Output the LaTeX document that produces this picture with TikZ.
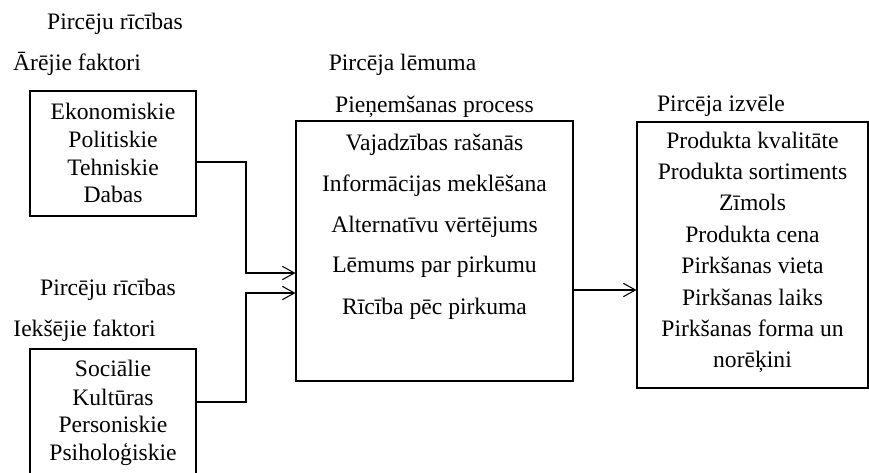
\documentclass[tikz,border=0pt]{standalone}
\usepackage{fontspec}
\setmainfont{Liberation Serif}
\usetikzlibrary{arrows.meta,positioning,fit}

\begin{document}
\begin{tikzpicture}[
    x=0.75pt, y=-0.75pt,
    box/.style={draw, rectangle, inner sep=0pt, line width=0.8pt},
    txt/.style={anchor=base, inner sep=0pt, font=\fontsize{17.7}{20}\selectfont},
    arrow/.style={-{Straight Barb[length=9pt, width=10pt]}, line width=0.8pt}
]
\clip (0,0) rectangle (869,473);

% Headings
\node[txt] (h1) at (115,30) {Pircēju rīcības};
\node[txt] (h2) at (77,71) {Ārējie faktori};
\node[txt] (h3) at (108,296) {Pircēju rīcības};
\node[txt] (h4) at (84.5,337) {Iekšējie faktori};
\node[txt] (h5) at (402.5,71) {Pircēja lēmuma};
\node[txt] (h6) at (434.5,113) {Pieņemšanas process};
\node[txt] (h7) at (721,112) {Pircēja izvēle};

% Boxes
\node[box, fit={(30,91) (196,216)}] (ext) {};
\node[box, fit={(30,349) (196,490)}] (int) {};
\node[box, fit={(296,121) (573,381)}] (proc) {};
\node[box, fit={(637,122) (868,388)}] (choice) {};

% Box contents
\foreach \t/\y in {Ekonomiskie/120, Politiskie/148, Tehniskie/176, Dabas/203}
  \node[txt] at (113,\y) {\t};
\foreach \t/\y in {Sociālie/377, Kultūras/406, Personiskie/433, Psiholoģiskie/461}
  \node[txt] at (113,\y) {\t};
\foreach \t/\y in {Vajadzības rašanās/151, Informācijas meklēšana/192,
                   Alternatīvu vērtējums/233, Lēmums par pirkumu/273,
                   Rīcība pēc pirkuma/315}
  \node[txt] at (434.5,\y) {\t};
\foreach \t/\y in {Produkta kvalitāte/149, Produkta sortiments/180,
                   Zīmols/211, Produkta cena/243, Pirkšanas vieta/274,
                   Pirkšanas laiks/306, Pirkšanas forma un/337, norēķini/368}
  \node[txt] at (752.5,\y) {\t};

% Connectors
\draw[arrow] (ext.east |- 0,162) -- (246,162) -- (246,273) -- (proc.west |- 0,273);
\draw[arrow] (int.east |- 0,402) -- (246,402) -- (246,293) -- (proc.west |- 0,293);
\draw[arrow] (proc.east |- 0,290) -- (choice.west |- 0,290);

\end{tikzpicture}
\end{document}
